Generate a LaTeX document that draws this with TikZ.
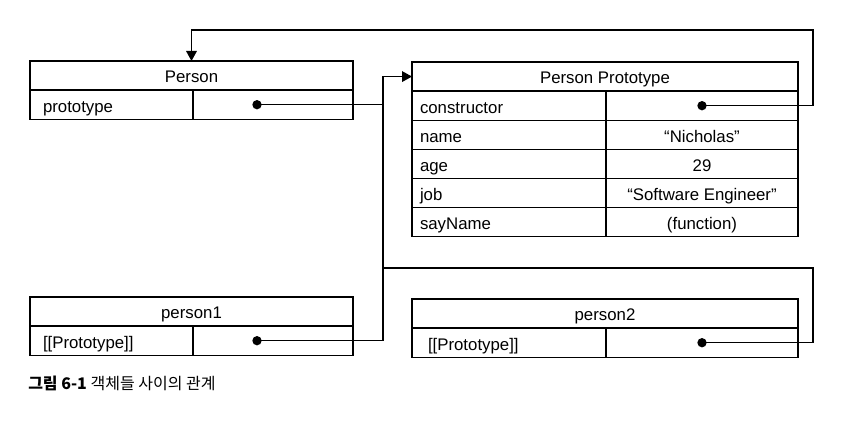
\documentclass[tikz,border=0pt]{standalone}
\usepackage{fontspec}
\setmainfont{Liberation Sans}
\newfontfamily\krfont{Noto Sans CJK KR}
\usetikzlibrary{arrows.meta}
\usetikzlibrary{positioning}

\begin{document}
\begin{tikzpicture}[x=0.75pt, y=-0.75pt,
	cell/.style={draw, line width=1pt, inner sep=0pt, outer sep=0pt, minimum height=21.85pt, anchor=north west, text height=11pt, text depth=0pt, font=\fontsize{12.6}{15}\selectfont},
	hdr/.style={cell, minimum width=#1},
	keycell/.style 2 args={cell, minimum width=#1, text width=#2, align=left},
	valcell/.style={cell, minimum width=#1},
	refdot/.style={circle, fill, inner sep=0pt, minimum size=7pt},
	link/.style={line width=0.9pt},
	arrowlink/.style={-{Triangle[length=7.5pt,width=8pt]}}]
	\useasboundingbox (0,0) rectangle (852,434);
	% Person
	\node[hdr=242.25pt] (person) at (30,61) {Person};
	\node[keycell={122.25pt}{102.75pt}] (person-key) at (person.south west) {prototype};
	\node[valcell=120pt] (person-val) at (person-key.north east) {};
	\node[refdot] (person-dot) at ([xshift=-12pt]person-val.center) {};
	% Person Prototype
	\node[hdr=289.5pt] (proto) at (412,62) {Person Prototype};
	\node[keycell={145.5pt}{133.5pt}] (proto-k1) at (proto.south west) {constructor};
	\node[valcell=144pt] (proto-v1) at (proto-k1.north east) {};
	\node[refdot] (proto-dot) at (proto-v1.center) {};
	\node[keycell={145.5pt}{133.5pt}] (proto-k2) at (proto-k1.south west) {name};
	\node[valcell=144pt] (proto-v2) at (proto-k2.north east) {“Nicholas”};
	\node[keycell={145.5pt}{133.5pt}] (proto-k3) at (proto-k2.south west) {age};
	\node[valcell=144pt] (proto-v3) at (proto-k3.north east) {29};
	\node[keycell={145.5pt}{133.5pt}] (proto-k4) at (proto-k3.south west) {job};
	\node[valcell=144pt] (proto-v4) at (proto-k4.north east) {“Software Engineer”};
	\node[keycell={145.5pt}{133.5pt}] (proto-k5) at (proto-k4.south west) {sayName};
	\node[valcell=144pt] (proto-v5) at (proto-k5.north east) {(function)};
	% person1
	\node[hdr=242.25pt] (person1) at (30,297) {person1};
	\node[keycell={122.25pt}{102.75pt}] (person1-key) at (person1.south west) {[[Prototype]]};
	\node[valcell=120pt] (person1-val) at (person1-key.north east) {};
	\node[refdot] (person1-dot) at ([xshift=-12pt]person1-val.center) {};
	% person2
	\node[hdr=289.5pt] (person2) at (412,299) {person2};
	\node[keycell={145.5pt}{121.5pt}] (person2-key) at (person2.south west) {[[Prototype]]};
	\node[valcell=144pt] (person2-val) at (person2-key.north east) {};
	\node[refdot] (person2-dot) at (person2-val.center) {};
	% caption
	\node[anchor=west, inner sep=0pt, font=\krfont\fontsize{12}{14}\selectfont] (caption) at (28,383) {\textbf{그림 6-1} 객체들 사이의 관계};
	% links
	\coordinate (bus) at (383,0);
	\coordinate (right-turn) at (813,268);
	\coordinate (top-turn) at (813,30);
	\draw[link, arrowlink] (person1-dot.center) -| (bus |- proto.west) -- (proto.west);
	\draw[link] (person-dot.center) -- (person-dot -| bus);
	\draw[link] (person2-dot.center) -| (right-turn) -- (right-turn -| bus);
	\draw[link, arrowlink] (proto-dot.center) -| (top-turn) -| (person.north);
\end{tikzpicture}
\end{document}
